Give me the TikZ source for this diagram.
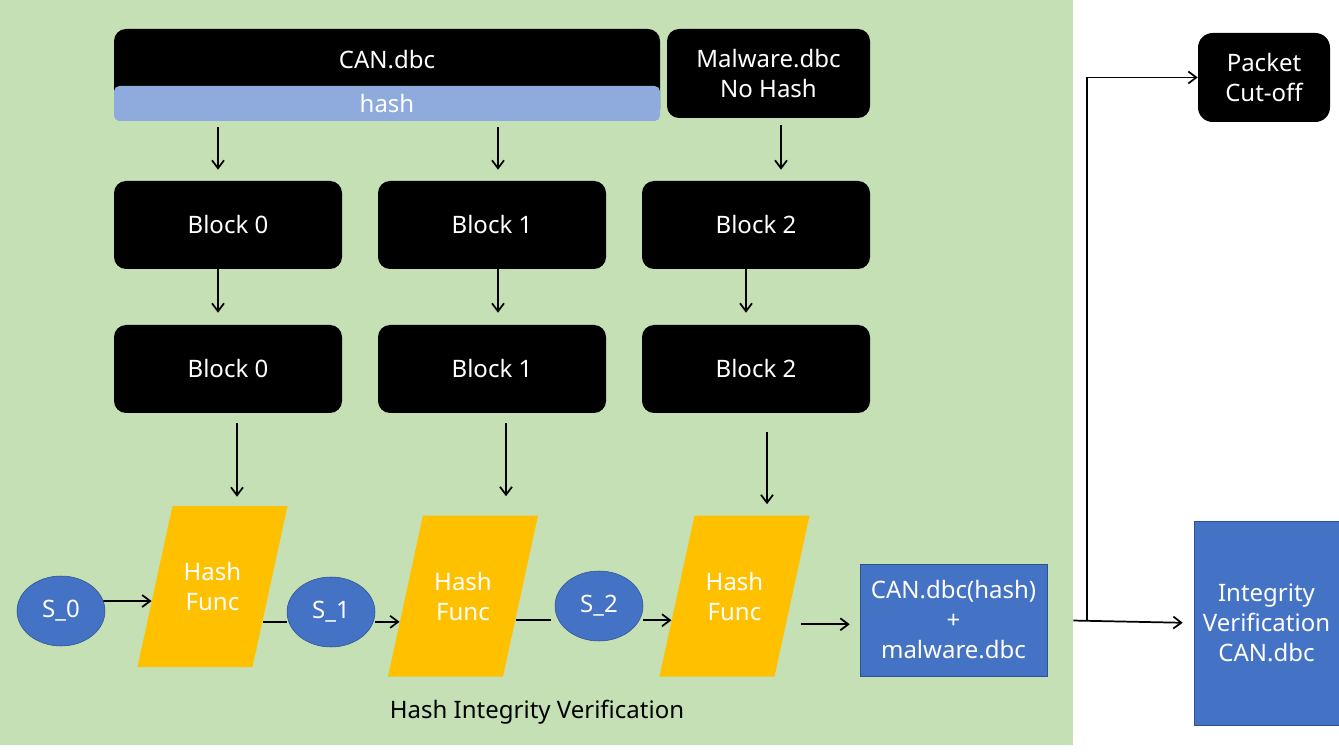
\documentclass[tikz,border=0pt]{standalone}
\usepackage{fontspec}
\setmainfont{Noto Sans}
\usetikzlibrary{shapes.geometric, calc, arrows.meta}

\definecolor{leaf}{HTML}{C5E0B4}
\definecolor{hashblue}{HTML}{8FAADC}
\definecolor{boxblue}{HTML}{4472C4}
\definecolor{edgeblue}{HTML}{2F528F}
\definecolor{amber}{HTML}{FFC000}

\begin{document}
\begin{tikzpicture}[x=0.75pt, y=-0.75pt,
 every node/.style = {font=\fontsize{18}{22.5}\selectfont},
          arr/.style = {-{Straight Barb[length=6pt,width=9pt]}, line width=1.3pt},
         wire/.style = {line width=1.3pt},
          blk/.style = {rectangle, rounded corners=9pt, fill=black,
                        text=white, align=center, inner sep=0pt,
                        minimum width=171pt, minimum height=66pt},
      hashbar/.style = {rectangle, rounded corners=4pt, fill=hashblue,
                        text=white, inner sep=0pt,
                        minimum width=409.5pt, minimum height=26.25pt},
       hashfn/.style = {rectangle, xslant=0.2174, fill=amber, inner sep=0pt,
                        minimum width=86.25pt, minimum height=120.75pt},
       fnname/.style = {text=white, align=center},
       bubble/.style = {ellipse, fill=boxblue, draw=edgeblue,
                        text=white, inner sep=0pt,
                        minimum width=66pt, minimum height=52.5pt},
       outbox/.style = {rectangle, fill=boxblue, draw=edgeblue,
                        text=white, align=center, inner sep=0pt}
                    ]
\useasboundingbox (0,0) rectangle (1339,755);
\fill[leaf] (0,0) rectangle (1073,745);
% Files
\node[blk, minimum width=409.5pt, minimum height=69pt] (can) at (387,75) {};
\node[hashbar] (hash) at (387,103.5) {hash};
\node[text=white] (canname) at (387,60) {CAN.dbc};
\node[blk, minimum width=152.25pt, minimum height=66.75pt]
      (mal) at (768.5,73.5) {Malware.dbc\\No Hash};
% Two rows of blocks
\foreach \i/\x in {0/228,1/492,2/756}
{
    \node[blk] (R1-\i) at (\x,225) {Block \i};
    \node[blk] (R2-\i) at (\x,369) {Block \i};
}
% Hash functions and states
\foreach \i/\x/\y in {0/212.5/586.5,1/463/596,2/734.5/596}
{
    \node[hashfn] (F-\i) at (\x,\y) {};
    \node[fnname] (T-\i) at (F-\i) {Hash\\Func};
}
\node[bubble] (S-0) at (61,611)  {S\_0};
\node[bubble] (S-1) at (331,612) {S\_1};
\node[bubble] (S-2) at (599,606) {S\_2};
% Results
\node[outbox, minimum width=140.25pt, minimum height=84pt]
      (mix) at (953.5,620) {CAN.dbc(hash)\\+\\malware.dbc};
\node[outbox, minimum width=108.75pt, minimum height=153pt]
      (check) at (1266.5,623) {Integrity\\Verification\\CAN.dbc};
\node[blk, rounded corners=11pt, minimum width=99pt, minimum height=66.75pt]
      (cut) at (1264,77.5) {Packet\\Cut-off};
\node (cap) at (537,712) {Hash Integrity Verification};
% Files to first row
\draw[arr] ($(hash.south -| R1-0)+(-10,6)$) -- ($(R1-0.north)+(-10,-11)$);
\draw[arr] ($(hash.south -| R1-1)+(6,6)$)   -- ($(R1-1.north)+(6,-11)$);
\draw[arr] ($(mal.south -| R1-2)+(25,7)$)   -- ($(R1-2.north)+(25,-11)$);
% First row to second row
\foreach \i/\d in {0/-10,1/6,2/-10}
    \draw[arr] ($(R1-\i.south)+(\d,0)$) -- ($(R2-\i.north)+(\d,-12)$);
% Second row to hash functions
\draw[arr] ($(R2-0.south)+(9,10)$)  -- ($(R2-0.south |- F-0.north)+(9,-9)$);
\draw[arr] ($(R2-1.south)+(14,10)$) -- ($(R2-1.south |- F-1.north)+(14,-19)$);
\draw[arr] ($(R2-2.south)+(11,19)$) -- ($(R2-2.south |- F-2.north)+(11,-11)$);
% Hash chain
\coordinate (in-0)  at ($(F-0.south west)!.41!(F-0.north west)$);
\coordinate (out-0) at ($(F-0.south east)!.28!(F-0.north east)$);
\coordinate (in-1)  at ($(F-1.south west)!.34!(F-1.north west)$);
\coordinate (out-1) at ($(F-1.south east)!.35!(F-1.north east)$);
\coordinate (in-2)  at ($(F-2.south west)!.35!(F-2.north west)$);
\coordinate (out-2) at ($(F-2.south east)!.325!(F-2.north east)$);
\draw[arr] ($(S-0.east)+(-2,-10)$) -- (in-0);
\draw[wire] (out-0) -- (S-1.west |- out-0);
\draw[arr] (S-1.east |- in-1) -- (in-1);
\draw[wire, shorten >=2.5pt] (out-1) -- (S-2.west |- out-1);
\draw[arr] (S-2.east |- in-2) -- (in-2);
\draw[arr, shorten <=11pt, shorten >=7.5pt] (out-2) -- (mix.west |- out-2);
% Verification and cut-off
\coordinate (fork) at ($(mix.east)!0.27!(check.west)$);
\draw[arr, shorten <=19.5pt, shorten >=8.25pt] (mix.east) -- (check.west);
\draw[arr] (fork) |- (cut.west);
\end{tikzpicture}
\end{document}
